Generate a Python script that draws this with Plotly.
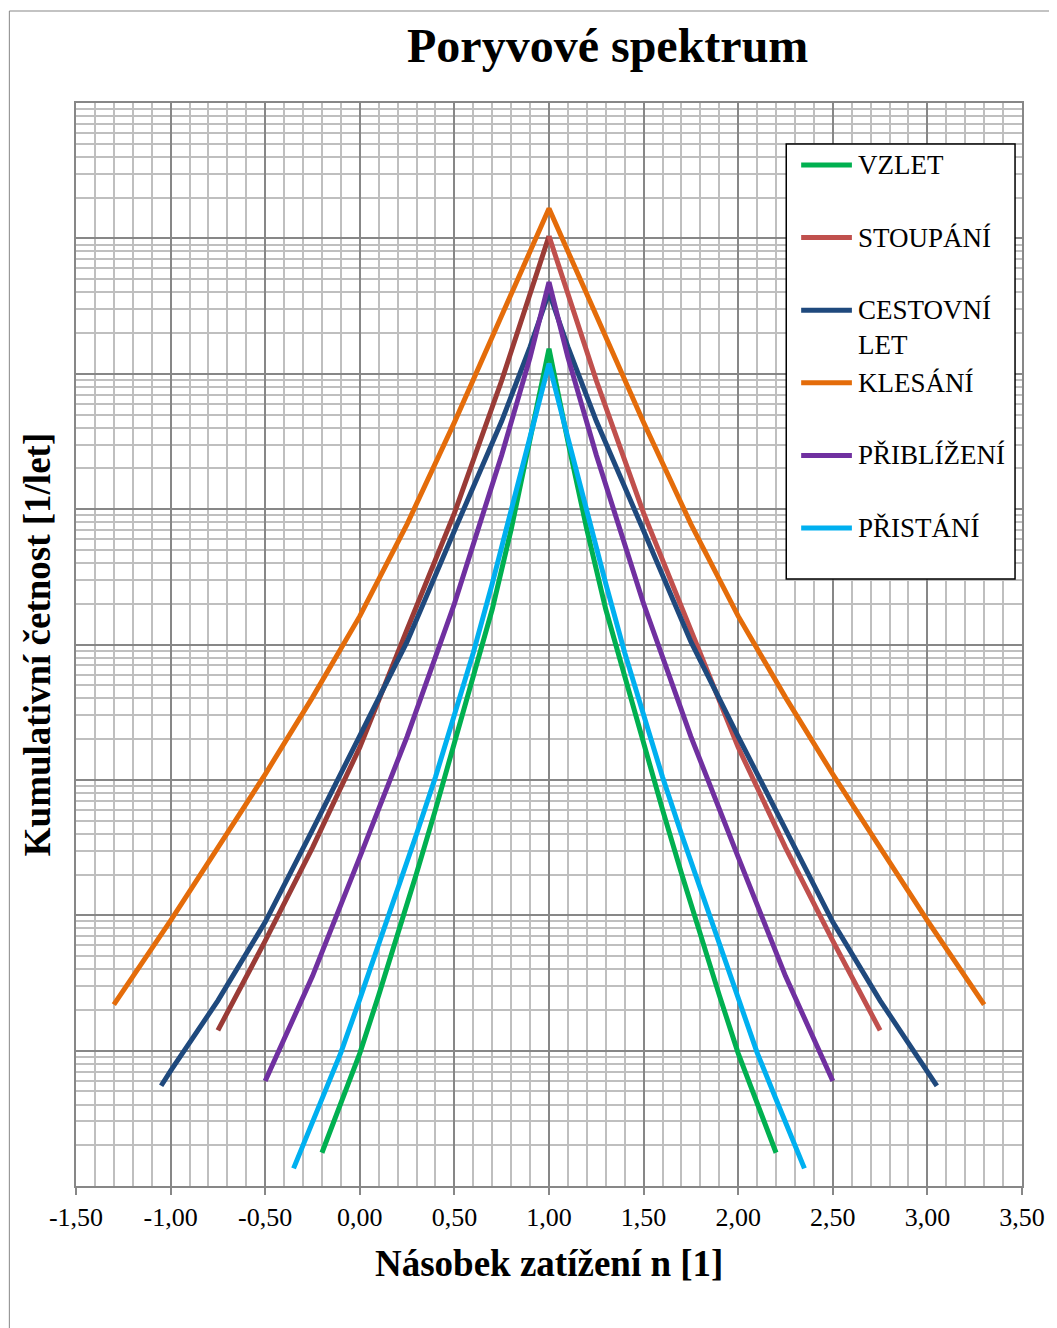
import plotly.graph_objects as go

# ---------------- data ----------------
SERIES_NAMES = ["VZLET", "STOUPÁNÍ", "CESTOVNÍ<br>LET", "KLESÁNÍ", "PŘIBLÍŽENÍ", "PŘISTÁNÍ"]

VZLET_x = [-0.2, -0.1, 0.0, 0.1, 0.2, 0.3, 0.4, 0.5, 0.6, 0.7, 0.8, 0.9, 1.0,
           1.1, 1.2, 1.3, 1.4, 1.5, 1.6, 1.7, 1.8, 1.9, 2.0, 2.1, 2.2]
VZLET_y = [1.76, 4.07, 9.55, 25.7, 70.8, 204, 603, 1860, 5750, 18200, 70800, 316000, 1530000,
           316000, 70800, 18200, 5750, 1860, 603, 204, 70.8, 25.7, 9.55, 4.07, 1.76]

STOUPANI_x = [-0.75, -0.5, -0.25, 0.0, 0.25, 0.5, 0.75, 1.0,
              1.25, 1.5, 1.75, 2.0, 2.25, 2.5, 2.75]
STOUPANI_y = [14.1, 64.6, 316, 1740, 12900, 93300, 891000, 10400000,
              891000, 93300, 12900, 1740, 316, 64.6, 14.1]

CESTOVNI_x = [-1.05, -1.0, -0.75, -0.5, -0.25, 0.0, 0.25, 0.5, 0.75, 0.9, 1.0,
              1.1, 1.25, 1.5, 1.75, 2.0, 2.25, 2.5, 2.75, 3.0, 3.05]
CESTOVNI_y = [5.50, 7.08, 23.4, 89.1, 427, 2090, 10500, 69200, 447000, 1580000, 3980000,
              1580000, 447000, 69200, 10500, 2090, 427, 89.1, 23.4, 7.08, 5.50]

KLESANI_x = [-1.3, -1.0, -0.75, -0.5, -0.25, 0.0, 0.25, 0.5, 0.75, 1.0,
             1.25, 1.5, 1.75, 2.0, 2.25, 2.5, 2.75, 3.0, 3.3]
KLESANI_y = [21.9, 91.2, 316, 1100, 4070, 16200, 77600, 437000, 2690000, 16600000,
             2690000, 437000, 77600, 16200, 4070, 1100, 316, 91.2, 21.9]

PRIBLIZENI_x = [-0.5, -0.25, 0.0, 0.25, 0.5, 0.75, 0.9, 1.0,
                1.1, 1.25, 1.5, 1.75, 2.0, 2.25, 2.5]
PRIBLIZENI_y = [5.96, 35.5, 269, 2090, 20000, 251000, 1320000, 4750000,
                1320000, 251000, 20000, 2090, 269, 35.5, 5.96]

PRISTANI_x = [-0.35, -0.2, -0.1, 0.0, 0.1, 0.2, 0.3, 0.4, 0.5, 0.6, 0.7, 0.8, 0.9, 1.0,
              1.1, 1.2, 1.3, 1.4, 1.5, 1.6, 1.7, 1.8, 1.9, 2.0, 2.1, 2.2, 2.35]
PRISTANI_y = [1.35, 4.37, 9.66, 24.0, 60.3, 155, 398, 1050, 3020, 8710, 28200, 95500, 335000, 1190000,
              335000, 95500, 28200, 8710, 3020, 1050, 398, 155, 60.3, 24.0, 9.66, 4.37, 1.35]

X_TICKS = [-1.5, -1.0, -0.5, 0.0, 0.5, 1.0, 1.5, 2.0, 2.5, 3.0, 3.5]
X_TICK_LABELS = ["-1,50", "-1,00", "-0,50", "0,00", "0,50", "1,00",
                 "1,50", "2,00", "2,50", "3,00", "3,50"]
Y_DECADES = [10 ** k for k in range(0, 9)]
Y_MINOR = [m * 10 ** k for k in range(0, 8) for m in range(2, 10)]

COLORS = ["#00B050", "#C0504D", "#1F497D", "#E46C0A", "#7030A0", "#00B0F0"]
STOUPANI_LEFT_COLOR = "#9A3B36"

FONT = "Liberation Serif, Times New Roman, serif"

# ---------------- geometry (page pixels; page body has an 8px margin) ----------------
OFF = 8
PAGE_W, PAGE_H = 1057, 1328
W, H = PAGE_W - OFF, PAGE_H - OFF
PL, PR, PT, PB = 76, 1027, 103, 1186          # plot area in page pixels


def px2x(px):
    return (px - PL) / (PR - PL)


def py2y(py):
    return (PB - py) / (PB - PT)


fig = go.Figure()
LW = 5

series = [
    (VZLET_x, VZLET_y),
    (STOUPANI_x, STOUPANI_y),
    (CESTOVNI_x, CESTOVNI_y),
    (KLESANI_x, KLESANI_y),
    (PRIBLIZENI_x, PRIBLIZENI_y),
    (PRISTANI_x, PRISTANI_y),
]

for i, (xs, ys) in enumerate(series):
    name = SERIES_NAMES[i].replace("<br>", " ")
    if i == 1:
        k = ys.index(max(ys))
        fig.add_trace(go.Scatter(x=xs[:k + 1], y=ys[:k + 1], mode="lines", name=name,
                                 line=dict(color=STOUPANI_LEFT_COLOR, width=LW),
                                 showlegend=False))
        fig.add_trace(go.Scatter(x=xs[k:], y=ys[k:], mode="lines", name=name,
                                 line=dict(color=COLORS[i], width=LW),
                                 showlegend=False))
    else:
        fig.add_trace(go.Scatter(x=xs, y=ys, mode="lines", name=name,
                                 line=dict(color=COLORS[i], width=LW),
                                 showlegend=False))

MAJOR = "#878787"
MINOR = "#BFBFBF"

fig.update_xaxes(
    range=[-1.5, 3.5], tickmode="array", tickvals=X_TICKS, ticktext=X_TICK_LABELS,
    ticks="outside", ticklen=7, tickcolor=MAJOR, tickwidth=1.5,
    showline=True, linecolor=MAJOR, linewidth=1.5, mirror=True,
    showgrid=True, gridcolor=MAJOR, gridwidth=1.5, zeroline=False,
    tickfont=dict(family=FONT, size=26, color="black"),
    ticklabelstandoff=0,
    minor=dict(dtick=0.1, showgrid=True, gridcolor=MINOR, gridwidth=1.8, ticks=""),
)
fig.update_yaxes(
    type="log", range=[0, 8], tickmode="array", tickvals=Y_DECADES,
    showticklabels=False, ticks="",
    showline=True, linecolor=MAJOR, linewidth=1.5, mirror=True,
    showgrid=True, gridcolor=MAJOR, gridwidth=1.8, zeroline=False,
    minor=dict(tickmode="array", tickvals=Y_MINOR, showgrid=True,
               gridcolor=MINOR, gridwidth=1.8, ticks=""),
)

shapes = []
annotations = []

# outer chart border
shapes.append(dict(type="rect", xref="paper", yref="paper",
                   x0=px2x(9), x1=px2x(1080), y0=py2y(1360), y1=py2y(11),
                   line=dict(color=MAJOR, width=1), fillcolor="rgba(0,0,0,0)", layer="below"))

# legend box
shapes.append(dict(type="rect", xref="paper", yref="paper",
                   x0=px2x(790), x1=px2x(1020), y0=py2y(579), y1=py2y(144),
                   line=dict(color="black", width=1.5), fillcolor="white", layer="above"))
for i, name in enumerate(SERIES_NAMES):
    cy = 165 + i * 72.6
    shapes.append(dict(type="line", xref="paper", yref="paper",
                       x0=px2x(805), x1=px2x(856), y0=py2y(cy), y1=py2y(cy),
                       line=dict(color=COLORS[i], width=LW), layer="above"))
    annotations.append(dict(xref="paper", yref="paper", x=px2x(860), y=py2y(cy - 17),
                            xanchor="left", yanchor="top", align="left", showarrow=False,
                            text=name, font=dict(family=FONT, size=27, color="black")))

# axis titles
annotations.append(dict(xref="paper", yref="paper", x=px2x(551.5), y=py2y(1263),
                        xanchor="center", yanchor="middle", showarrow=False,
                        text="Násobek zatížení n [1]",
                        font=dict(family=FONT, size=37, color="black", weight="bold")))
annotations.append(dict(xref="paper", yref="paper", x=px2x(37), y=py2y(645),
                        xanchor="center", yanchor="middle", showarrow=False, textangle=-90,
                        text="Kumulativní četnost [1/let]",
                        font=dict(family=FONT, size=37, color="black", weight="bold")))

fig.update_layout(
    width=W, height=H,
    margin=dict(l=PL - OFF, r=W - (PR - OFF), t=PT - OFF, b=H - (PB - OFF)),
    paper_bgcolor="white", plot_bgcolor="white",
    showlegend=False,
    title=dict(text="Poryvové spektrum", xref="paper", x=px2x(610.5), xanchor="center",
               yref="container", y=1 - (45 - OFF) / H, yanchor="middle",
               font=dict(family=FONT, size=48, color="black", weight="bold")),
    shapes=shapes,
    annotations=annotations,
)

fig.write_html("out.html")
